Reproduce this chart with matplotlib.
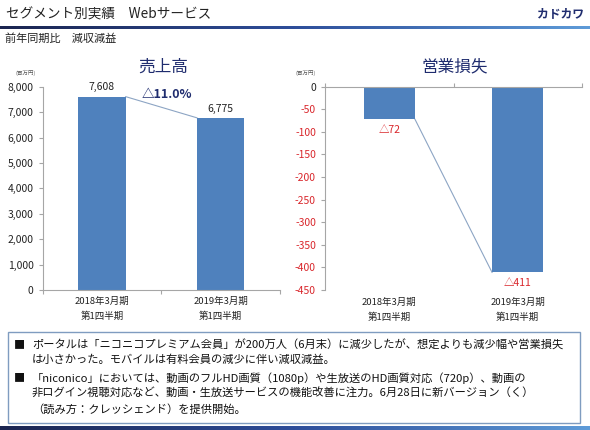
import numpy as np
import matplotlib

matplotlib.use("Agg")
import matplotlib.pyplot as plt
from matplotlib.patches import Rectangle

plt.rcParams["font.family"] = ["Noto Sans CJK JP", "DejaVu Sans"]

# data
categories = ["2018年3月期\n第1四半期", "2019年3月期\n第1四半期"]
sales = [7608, 6775]            # 売上高 (百万円)
op_loss = [-72, -411]           # 営業損失 (百万円)
sales_change = "△11.0%"
sales_ticks = list(range(0, 8001, 1000))
loss_ticks = list(range(-450, 1, 50))

W, H = 590, 430
NAVY = "#1F2C6E"
BAR = "#4F81BD"
RED = "#D9262B"
AXIS = "#A6A6A6"


def box(x0, y0, x1, y1):
    # pixel box (top-left origin) -> figure fraction rect
    return [x0 / W, 1 - y1 / H, (x1 - x0) / W, (y1 - y0) / H]


def fmt_tri(v):
    return f"△{abs(v):,}" if v < 0 else f"{v:,}"


fig = plt.figure(figsize=(W / 100, H / 100), dpi=100)

# header
fig.text(6 / W, 1 - 15 / H, "セグメント別実績　Webサービス", fontsize=9.8, va="center", color="#222222")
fig.text(584 / W, 1 - 14 / H, "カドカワ", fontsize=8.5, fontweight="bold", va="center", ha="right", color=NAVY)
grad = np.linspace(0, 1, 256).reshape(1, -1)
cmap = matplotlib.colors.LinearSegmentedColormap.from_list("hdr", ["#1B2550", "#2E4E9A", "#5E9BD8"])
gax = fig.add_axes(box(0, 26, W, 29))
gax.imshow(grad, aspect="auto", cmap=cmap)
gax.axis("off")
fig.text(5 / W, 1 - 39 / H, "前年同期比　減収減益", fontsize=8, va="center", color="#222222")

# left chart: sales
ax1 = fig.add_axes(box(42.7, 86.7, 280, 290))
x = np.arange(len(categories))
bw = 0.40
ax1.bar(x, sales, width=bw, color=BAR, zorder=2)
ax1.plot([x[0] + bw / 2, x[1] - bw / 2], sales, color="#8DA5C4", lw=0.8, zorder=1)
for xi, v in zip(x, sales):
    ax1.annotate(f"{v:,}", (xi, v), textcoords="offset points", xytext=(0, 3),
                 ha="center", va="bottom", fontsize=7.5, color="#222222")
ax1.text(0.55, 7700, sales_change, ha="center", va="center", fontsize=9,
         fontweight="bold", color=NAVY)
ax1.set_xlim(-0.5, 1.5)
ax1.set_ylim(0, 8000)
ax1.set_yticks(sales_ticks)
ax1.set_yticklabels([f"{t:,}" for t in sales_ticks], fontsize=7.5, color="#222222")
ax1.set_xticks([-0.5, 0.5, 1.5])
ax1.set_xticklabels([])
for xi, c in zip(x, categories):
    ax1.text(xi, -0.035, c, transform=ax1.get_xaxis_transform(), ha="center", va="top",
             fontsize=6.8, color="#222222", linespacing=1.7)
ax1.tick_params(axis="both", which="major", length=3, color=AXIS, width=0.8)
for s in ["top", "right"]:
    ax1.spines[s].set_visible(False)
for s in ["left", "bottom"]:
    ax1.spines[s].set_color(AXIS)
    ax1.spines[s].set_linewidth(0.8)
fig.text(163 / W, 1 - 67 / H, "売上高", fontsize=12, color=NAVY, ha="center", va="center")
fig.text(16 / W, 1 - 73 / H, "(百万円)", fontsize=4, va="center", color="#555555")

# right chart: operating loss
ax2 = fig.add_axes(box(325, 86.7, 582, 290))
ax2.bar(x, op_loss, width=bw, color=BAR, zorder=2)
ax2.plot([x[0] + bw / 2, x[1] - bw / 2], op_loss, color="#8DA5C4", lw=0.8, zorder=1)
for xi, v in zip(x, op_loss):
    ax2.annotate(fmt_tri(v), (xi, v), textcoords="offset points", xytext=(0, -4),
                 ha="center", va="top", fontsize=7.5, color=RED)
ax2.set_xlim(-0.5, 1.5)
ax2.set_ylim(-450, 0)
ax2.set_yticks(loss_ticks)
ax2.set_yticklabels([str(t) for t in loss_ticks], fontsize=7.5)
for lbl, t in zip(ax2.get_yticklabels(), loss_ticks):
    lbl.set_color("#222222" if t == 0 else RED)
ax2.xaxis.set_ticks_position("top")
ax2.set_xticks([-0.5, 0.5, 1.5])
ax2.set_xticklabels([])
ax2.tick_params(axis="both", which="major", length=3, color=AXIS, width=0.8)
for xi, c in zip(x, categories):
    ax2.text(xi, -0.04, c, transform=ax2.get_xaxis_transform(), ha="center", va="top",
             fontsize=6.8, color="#222222", linespacing=1.7)
for s in ["bottom", "right"]:
    ax2.spines[s].set_visible(False)
for s in ["left", "top"]:
    ax2.spines[s].set_color(AXIS)
    ax2.spines[s].set_linewidth(0.8)
fig.text(455 / W, 1 - 67 / H, "営業損失", fontsize=12, color=NAVY, ha="center", va="center")
fig.text(296 / W, 1 - 73 / H, "(百万円)", fontsize=4, va="center", color="#555555")

# bottom comment box
fig.patches.append(Rectangle((8 / W, 1 - 423 / H), 572 / W, 91 / H, transform=fig.transFigure,
                             fill=False, edgecolor="#7F9CC0", lw=1.0))
lines = [
    (345, "■", "ポータルは「ニコニコプレミアム会員」が200万人（6月末）に減少したが、想定よりも減少幅や営業損失"),
    (360, "", "は小さかった。モバイルは有料会員の減少に伴い減収減益。"),
    (378, "■", "「niconico」においては、動画のフルHD画質（1080p）や生放送のHD画質対応（720p）、動画の"),
    (393, "", "非ログイン視聴対応など、動画・生放送サービスの機能改善に注力。6月28日に新バージョン（く）"),
    (409, "", "（読み方：クレッシェンド）を提供開始。"),
]
for y, bullet, txt in lines:
    if bullet:
        fig.text(14 / W, 1 - y / H, bullet, fontsize=8, va="center", color="#111111")
    fig.text(32 / W, 1 - y / H, txt, fontsize=8.1, va="center", color="#111111")
bax = fig.add_axes(box(0, 426, W, 430))
bax.imshow(grad, aspect="auto", cmap=cmap)
bax.axis("off")

fig.savefig("out.png", dpi=100)
